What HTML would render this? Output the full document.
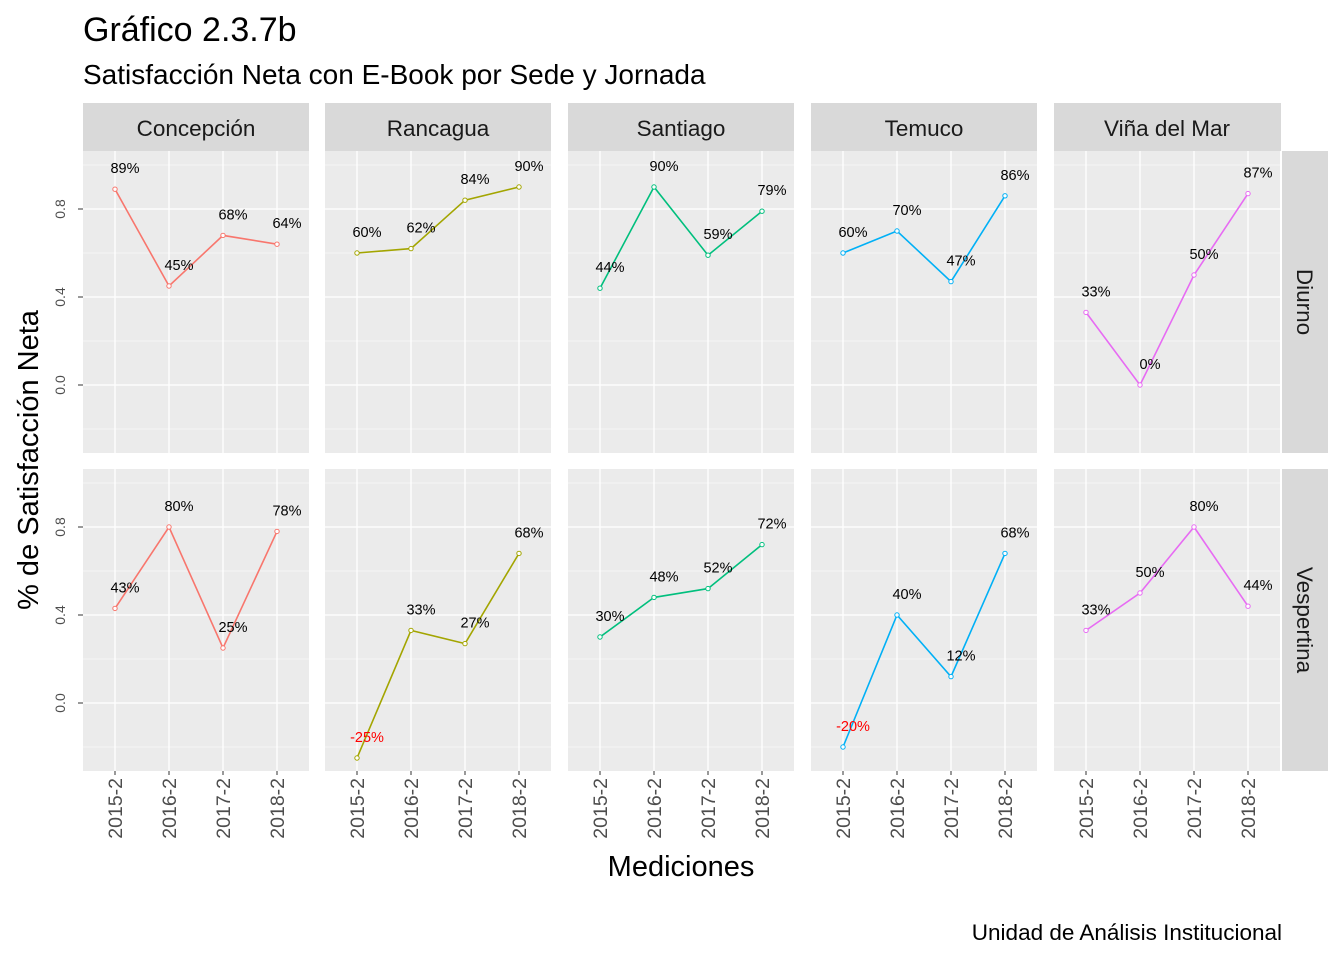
<!DOCTYPE html>
<html><head><meta charset="utf-8"><style>
html,body{margin:0;padding:0;background:#fff;}
svg{display:block;font-family:"Liberation Sans",Arial,sans-serif;}
</style></head><body>
<svg id="chart" width="1344" height="960" viewBox="0 0 1344 960" xmlns="http://www.w3.org/2000/svg">
<text x="83" y="41" font-size="34" fill="#000">Gráfico 2.3.7b</text>
<text x="83" y="84" font-size="28" fill="#000">Satisfacción Neta con E-Book por Sede y Jornada</text>
<text x="681" y="876" font-size="29" text-anchor="middle" fill="#000">Mediciones</text>
<text transform="translate(38,460) rotate(-90)" font-size="29" text-anchor="middle" fill="#000">% de Satisfacción Neta</text>
<text x="1282" y="940" font-size="22.5" text-anchor="end" fill="#000">Unidad de Análisis Institucional</text>
<g id="panels"></g>
</svg>
<script>
const sedes = ["Concepción","Rancagua","Santiago","Temuco","Viña del Mar"];
const jornadas = ["Diurno","Vespertina"];
const periods = ["2015-2","2016-2","2017-2","2018-2"];
const colors = ["#F8766D","#A3A500","#00BF7D","#00B0F6","#E76BF3"];
const diurno = [
  [0.89,0.45,0.68,0.64],
  [0.60,0.62,0.84,0.90],
  [0.44,0.90,0.59,0.79],
  [0.60,0.70,0.47,0.86],
  [0.33,0.00,0.50,0.87]
];
const vespertina = [
  [0.43,0.80,0.25,0.78],
  [-0.25,0.33,0.27,0.68],
  [0.30,0.48,0.52,0.72],
  [-0.20,0.40,0.12,0.68],
  [0.33,0.50,0.80,0.44]
];
const yTicks = [0.0,0.4,0.8];
const yMinor = [-0.2,0.2,0.6,1.0];

const NS="http://www.w3.org/2000/svg";
const g=document.getElementById("panels");
function mk(tag,attrs,parent){const e=document.createElementNS(NS,tag);for(const k in attrs)e.setAttribute(k,attrs[k]);(parent||g).appendChild(e);return e;}
const colX=[83,325,568,811,1054], panelW=226;
const rowTop=[151,469], panelH=302;
const zeroY=[385,703], pxPerUnit=220;
function xScale(c,i){return colX[c]+32+54*i;}
function yScale(r,v){return zeroY[r]-v*pxPerUnit;}

sedes.forEach((s,c)=>{
  let r=mk("rect",{x:colX[c],y:103,width:panelW+(c==4?1:0),height:48,fill:"#D9D9D9"});
  
  
  let t=mk("text",{x:colX[c]+panelW/2,y:136,"font-size":22.5,"text-anchor":"middle",fill:"#1A1A1A"});
  t.textContent=s;
  
  
});
jornadas.forEach((j,r)=>{
  let rect=mk("rect",{x:1282,y:rowTop[r],width:46,height:panelH,fill:"#D9D9D9"});
  
  
  let t=mk("text",{transform:`translate(1297,${rowTop[r]+panelH/2}) rotate(90)`,"font-size":22.5,"text-anchor":"middle",fill:"#1A1A1A"});
  t.textContent=j;
  
  
});
jornadas.forEach((j,r)=>{
  yTicks.forEach(v=>{
    let t=mk("text",{transform:`translate(65,${yScale(r,v)}) rotate(-90)`,"font-size":14,"text-anchor":"middle",fill:"#4D4D4D"});
    t.textContent=v.toFixed(1);
    
    
    mk("line",{x1:78,x2:83,y1:yScale(r,v),y2:yScale(r,v),stroke:"#333","stroke-width":1});
  });
});
sedes.forEach((s,c)=>{
  periods.forEach((p,i)=>{
    mk("line",{x1:xScale(c,i),x2:xScale(c,i),y1:770,y2:775,stroke:"#333","stroke-width":1});
    let t=mk("text",{transform:`translate(${xScale(c,i)+7},778) rotate(-90)`,"font-size":19.5,"text-anchor":"end",fill:"#4D4D4D"});
    t.textContent=p;
    
    
  });
});
[diurno,vespertina].forEach((data,r)=>{
  sedes.forEach((s,c)=>{
    let bg=mk("rect",{x:colX[c],y:rowTop[r],width:panelW,height:panelH,fill:"#EBEBEB"});
    
    
    yMinor.forEach(v=>mk("line",{x1:colX[c],x2:colX[c]+panelW,y1:yScale(r,v),y2:yScale(r,v),stroke:"#fff","stroke-width":0.6}));
    yTicks.forEach(v=>mk("line",{x1:colX[c],x2:colX[c]+panelW,y1:yScale(r,v),y2:yScale(r,v),stroke:"#fff","stroke-width":1.3}));
    periods.forEach((p,i)=>mk("line",{x1:xScale(c,i),x2:xScale(c,i),y1:rowTop[r],y2:rowTop[r]+panelH,stroke:"#fff","stroke-width":1.3}));
    const vals=data[c];
    const pts=vals.map((v,i)=>xScale(c,i)+","+yScale(r,v)).join(" ");
    let pl=mk("polyline",{points:pts,fill:"none",stroke:colors[c],"stroke-width":1.6});
    
    
    vals.forEach((v,i)=>{
      let ci=mk("circle",{cx:xScale(c,i),cy:yScale(r,v),r:2.2,fill:"#fff",stroke:colors[c],"stroke-width":1});
      
      
      let t=mk("text",{x:xScale(c,i)+10,y:yScale(r,v)-16,"font-size":14.5,"text-anchor":"middle",fill:v<0?"#FF0000":"#000"});
      t.textContent=Math.round(v*100)+"%";
      
      
    });
  });
});
</script>
</body></html>
